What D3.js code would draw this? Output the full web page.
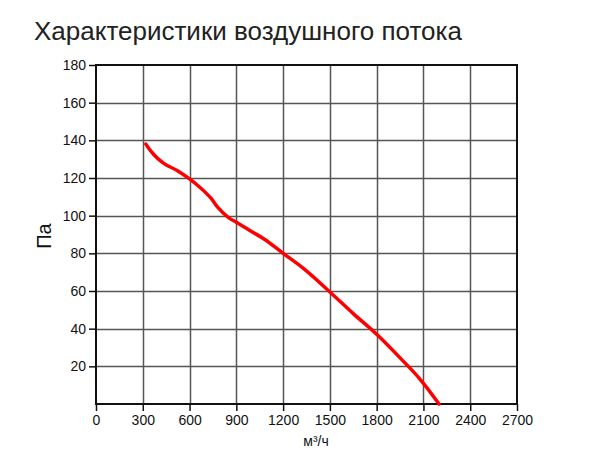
<!DOCTYPE html>
<html><head><meta charset="utf-8">
<script src="https://cdn.jsdelivr.net/npm/d3@7"></script>
<style>html,body{margin:0;padding:0;background:#fff;}svg{display:block;font-family:"Liberation Sans",Arial,sans-serif;}</style>
</head><body>
<svg id="c" width="605" height="473"></svg>
<script>
const flow = [320, 340, 370, 430, 520, 600, 660, 700, 740, 780, 850, 900, 1000, 1080, 1200, 1330, 1500, 1650, 1800, 1950, 2080, 2100, 2200];
const pressure = [138, 135.5, 132.5, 128, 124, 119.5, 115.5, 112.5, 109, 104.5, 99, 96.5, 91.5, 87.5, 80, 72, 59.5, 48, 37, 24.5, 13, 11, 0];
const xTicks = [0, 300, 600, 900, 1200, 1500, 1800, 2100, 2400, 2700];
const yTicks = [20, 40, 60, 80, 100, 120, 140, 160, 180];
const title = "Характеристики воздушного потока";
const xTitle = "м³/ч";
const yTitle = "Па";

const svg = d3.select("#c");
const L = 96, R = 517, T = 65, B = 404;
const x = d3.scaleLinear().domain([0, 2700]).range([L, R]);
const y = d3.scaleLinear().domain([0, 180]).range([B, T]);

svg.append("text").attr("x", 34).attr("y", 40).attr("font-size", 26).attr("fill", "#222").text(title);

// grid
svg.append("g").selectAll("line").data(xTicks.slice(1, -1)).join("line")
  .attr("x1", d => Math.round(x(d)) + 0.5).attr("x2", d => Math.round(x(d)) + 0.5)
  .attr("y1", T).attr("y2", B).attr("stroke", "#555").attr("stroke-width", 1.5);
svg.append("g").selectAll("line").data(yTicks.slice(0, -1)).join("line")
  .attr("y1", d => Math.round(y(d)) + 0.5).attr("y2", d => Math.round(y(d)) + 0.5)
  .attr("x1", L).attr("x2", R).attr("stroke", "#555").attr("stroke-width", 1.5);

// frame
svg.append("rect").attr("x", L).attr("y", T).attr("width", R - L).attr("height", B - T)
  .attr("fill", "none").attr("stroke", "#111").attr("stroke-width", 2);

// axes
const yAxis = d3.axisLeft(y).tickValues(yTicks).tickSize(7).tickPadding(3).tickFormat(d3.format("d"));
const gy = svg.append("g").attr("transform", `translate(${L},0)`).call(yAxis);
const xAxis = d3.axisBottom(x).tickValues(xTicks).tickSize(7).tickPadding(4).tickFormat(d3.format("d"));
const gx = svg.append("g").attr("transform", `translate(0,${B})`).call(xAxis);
[gx, gy].forEach(g => {
  g.select(".domain").remove();
  g.selectAll("line").attr("stroke", "#111").attr("stroke-width", 1.5);
  g.selectAll("text").attr("font-size", 14).attr("fill", "#111").attr("font-family", "Liberation Sans, Arial, sans-serif");
});

// line
const line = d3.line().x((d, i) => x(flow[i])).y(d => y(d)).curve(d3.curveMonotoneX);
svg.append("path").datum(pressure).attr("d", line).attr("fill", "none")
  .attr("stroke", "#ff0000").attr("stroke-width", 3.5).attr("stroke-linecap", "round");

svg.append("text").attr("x", 316).attr("y", 446).attr("text-anchor", "middle")
  .attr("font-size", 14).attr("fill", "#111").text(xTitle);
svg.append("text").attr("transform", "translate(51,236) rotate(-90)").attr("text-anchor", "middle")
  .attr("font-size", 20).attr("fill", "#111").text(yTitle);
</script>
</body></html>
